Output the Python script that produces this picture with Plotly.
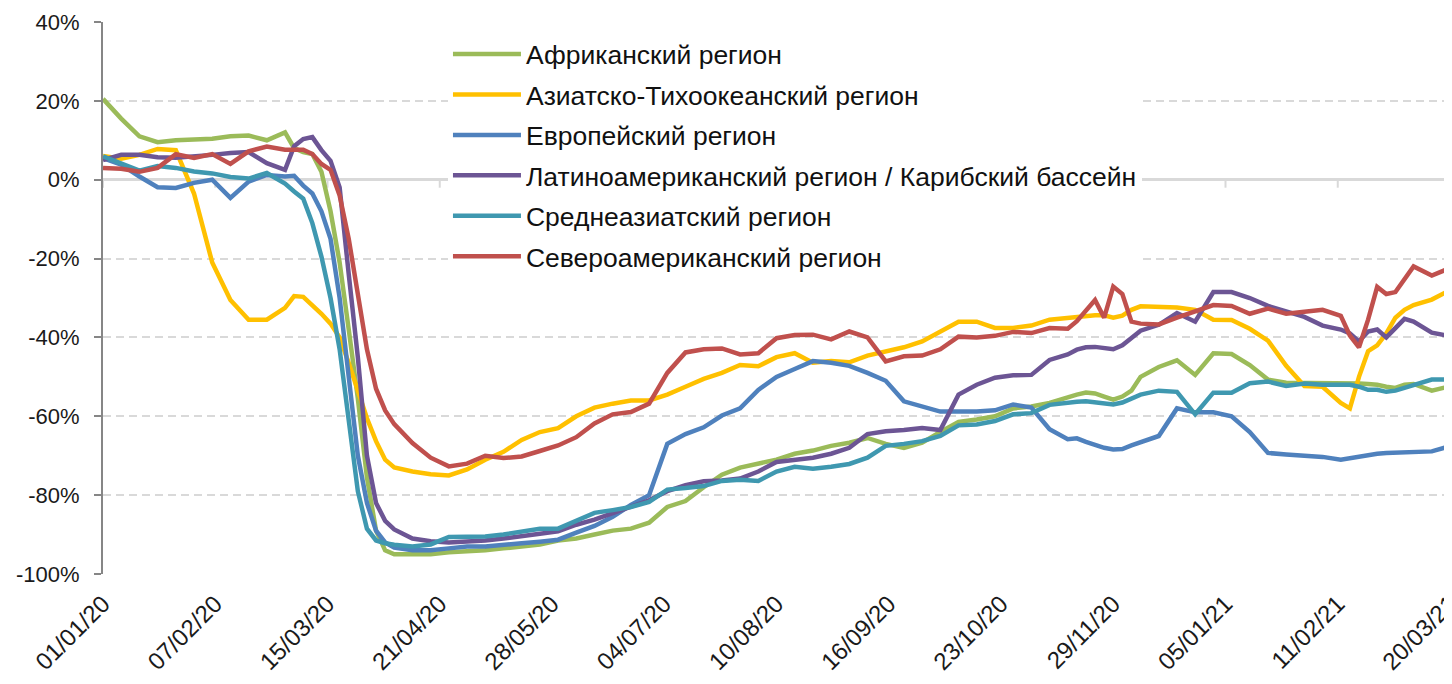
import datetime as dt
import plotly.graph_objects as go

# ---------------- data ----------------
start_date = "2020-01-01"
day_offsets = [0, 6, 12, 18, 24, 30, 36, 42, 48, 54, 60,
               63, 66, 69, 72, 75, 78, 81, 84, 87, 90, 93, 96,
               102, 108, 114, 120, 126, 132, 138, 144, 150, 156, 162, 168, 174, 180,
               186, 192, 198, 204, 210, 216, 222, 228, 234, 240, 246, 252, 258, 264,
               270, 276, 282, 288, 294, 300, 306, 312, 318,
               321, 324, 327, 330, 333, 336, 339, 342,
               348, 354, 360, 366, 372, 378, 384, 390, 396, 402, 408,
               411, 414, 417, 420, 423, 426, 429, 432,
               438, 444]

series_names = ["Африканский регион",
                "Азиатско-Тихоокеанский регион",
                "Европейский регион",
                "Латиноамериканский регион / Карибский бассейн",
                "Среднеазиатский регион",
                "Североамериканский регион"]

africa = [20.5, 15.5, 11, 9.5, 10, 10.2, 10.4, 11, 11.2, 10, 12,
          8, 7, 6.5, 2, -8, -21, -38, -55.5, -75.5, -89, -94, -95,
          -95, -95, -94.5, -94.3, -94, -93.5, -93, -92.5, -91.5, -91, -90, -89, -88.5, -87,
          -83, -81.5, -78, -74.8, -73, -72, -71, -69.5, -68.7, -67.5, -66.7, -65.5, -67, -68,
          -66.7, -64, -61.4, -60.8, -60, -58, -57.5, -56.6, -55,
          -54.5, -54, -54.2, -55, -55.8, -55, -53.5, -50,
          -47.5, -45.8, -49.5, -44, -44.2, -47, -50.7, -51.5, -51.5, -51.5, -51.5,
          -51.6, -51.7, -51.8, -52, -52.5, -52.8, -52, -51.8,
          -53.5, -52.4]

asia_pacific = [6, 5.3, 6.3, 7.8, 7.5, -3.5, -21, -30.5, -35.5, -35.5, -32.5,
                -29.5, -29.7, -31.8, -34, -36.5, -40, -46.5, -53.5, -60.5, -66.3, -71, -73,
                -74, -74.7, -75, -73.5, -71, -69, -66, -64, -63, -60, -57.8, -56.8, -56, -56,
                -54.5, -52.5, -50.5, -49, -47, -47.3, -45, -44, -46.4, -46, -46.3, -44.6, -43.6, -42.5,
                -41, -38.5, -36, -36, -37.6, -37.6, -37, -35.5, -35,
                -34.8, -34.7, -34.4, -34.4, -35, -34.5, -33, -32.1,
                -32.2, -32.4, -33, -35.5, -35.6, -37.8, -40.8, -47.2, -52.3, -52.5, -56.6,
                -58, -50, -43.5, -42, -39, -35, -33, -31.8,
                -30.4, -28]

europe = [5.5, 3.8, 0.8, -1.9, -2.1, -0.8, 0, -4.6, -0.5, 1.2, 0.8,
          1, -1.5, -3.5, -8, -15, -30, -51, -70, -82, -89, -92, -93.3,
          -94, -94, -93.5, -93, -93, -92.5, -92.2, -91.8, -91.3, -89.5, -87.8, -85.5, -82.5, -80,
          -67, -64.5, -62.8, -59.8, -58, -53.3, -50, -48, -46, -46.4, -47.2, -49, -51, -56.2,
          -57.5, -58.8, -58.8, -58.8, -58.5, -57, -57.8, -63.3, -65.8,
          -65.6, -66.5, -67.3, -68, -68.4, -68.3, -67.4, -66.5,
          -65, -58, -59, -59, -60, -64, -69.3, -69.7, -70, -70.3, -71,
          -70.6, -70.2, -69.7, -69.5, -69.3, -69.2, -69.1, -69,
          -68.9, -67.6]

latin_america = [5, 6.3, 6.3, 5.7, 5.6, 5.9, 6.3, 6.8, 7, 4.2, 2.5,
                 8.5, 10.3, 10.8, 7.5, 4.8, -2, -24, -45, -70, -82, -86.5, -88.7,
                 -91, -91.7, -92, -91.8, -91.5, -91, -90.3, -89.8, -89.2, -87.5, -86.2, -84.5, -82.8, -81.3,
                 -79, -77.5, -76.5, -76.3, -75.8, -74, -71.6, -71, -70.5, -69.5, -68, -64.5, -63.8, -63.5,
                 -63, -63.5, -54.5, -52, -50.2, -49.6, -49.5, -45.7, -44.3,
                 -43.1, -42.5, -42.4, -42.7, -43, -42, -40, -38.3,
                 -36.8, -33.8, -36, -28.5, -28.5, -30, -32, -33.5, -34.8, -37, -38,
                 -39, -41, -38.5, -38, -40, -37.5, -35.3, -36,
                 -38.8, -39.7]

central_asia = [5.9, 4.2, 2.3, 3.5, 3, 2.1, 1.6, 0.7, 0.3, 1.7, -1,
                -3, -4.8, -11, -19.5, -30, -43, -61, -79, -88.5, -91.5, -92.2, -92.6,
                -93, -92.5, -90.6, -90.5, -90.5, -90, -89.3, -88.5, -88.5, -86.5, -84.5, -83.8, -83, -81.7,
                -78.6, -78.2, -77.7, -76.4, -76.1, -76.4, -74, -72.8, -73.3, -72.8, -72.1, -70.5, -67.5, -67,
                -66.3, -65, -62.3, -62.1, -61.2, -59.5, -59.2, -57.1, -56.5,
                -56.3, -56.2, -56.4, -56.7, -57, -56.5, -55.6, -54.5,
                -53.5, -53.8, -59.5, -54, -54, -51.6, -51.2, -52.3, -51.7, -52, -52,
                -52, -52.5, -53.3, -53.3, -53.8, -53.5, -52.8, -52.2,
                -50.7, -50.7]

north_america = [3, 2.8, 2, 3, 6.5, 5.5, 6.5, 4, 7.2, 8.4, 7.6,
                 7.5, 7.6, 6.5, 4, 2.5, -4, -15, -29, -43, -53, -58.5, -62,
                 -66.8, -70.5, -72.7, -72, -70, -70.6, -70.2, -68.8, -67.4, -65.3, -61.8, -59.5, -58.9, -56.8,
                 -49, -43.8, -43, -42.8, -44.3, -44, -40.2, -39.4, -39.3, -40.5, -38.5, -40, -46.1, -44.8,
                 -44.6, -43, -39.8, -40, -39.6, -38.6, -38.9, -37.6, -37.8,
                 -35.9, -33, -30.5, -35, -27.1, -29, -36, -36.5,
                 -36.7, -35, -33.3, -31.8, -32, -34, -32.7, -34, -33.5, -33, -34.5,
                 -39.5, -42.5, -35.5, -27.2, -29, -28.5, -25, -22,
                 -24.3, -22.4]

tick_dates = ["2020-01-01", "2020-02-07", "2020-03-15", "2020-04-21", "2020-05-28",
              "2020-07-04", "2020-08-10", "2020-09-16", "2020-10-23", "2020-11-29",
              "2021-01-05", "2021-02-11", "2021-03-20"]
tick_labels = ["01/01/20", "07/02/20", "15/03/20", "21/04/20", "28/05/20", "04/07/20",
               "10/08/20", "16/09/20", "23/10/20", "29/11/20", "05/01/21", "11/02/21", "20/03/21"]

y_ticks = [-100, -80, -60, -40, -20, 0, 20, 40]
y_tick_labels = ["-100%", "-80%", "-60%", "-40%", "-20%", "0%", "20%", "40%"]

colors = ["#9BBB59", "#FFC000", "#4F81BD", "#6C5594", "#3F98B0", "#C0504D"]

# ---------------- figure ----------------
t0 = dt.date.fromisoformat(start_date)
dates = [t0 + dt.timedelta(days=d) for d in day_offsets]
all_series = [africa, asia_pacific, europe, latin_america, central_asia, north_america]

fig = go.Figure()
for i, (name, vals, col) in enumerate(zip(series_names, all_series, colors)):
    fig.add_trace(go.Scatter(
        x=dates, y=vals, mode="lines", name=name,
        legendgroup=f"g{i}",
        line=dict(color=col, width=4.5),
        hoverinfo="skip",
    ))

# small tick marks on the zero line
for td in tick_dates:
    fig.add_shape(type="line", xref="x", yref="y", x0=td, x1=td,
                  ysizemode="pixel", yanchor=0, y0=0, y1=-8,
                  line=dict(color="#d9d9d9", width=2), layer="below")

# the page body adds an 8px offset, so the figure is sized to compensate
fig.update_layout(
    width=1444, height=676,
    margin=dict(l=95, r=2, t=14, b=110),
    paper_bgcolor="white", plot_bgcolor="white",
    font=dict(family="Liberation Sans, Arial, sans-serif", color="#1a1a1a"),
    showlegend=True,
    legend=dict(
        x=0.2561, y=0.985, xanchor="left", yanchor="top",
        bgcolor="white", borderwidth=0,
        font=dict(size=26.5, color="#111111"),
        tracegroupgap=3,
        itemwidth=68,
    ),
    xaxis=dict(
        type="date",
        range=[dates[0], dates[-1]],
        tickvals=tick_dates, ticktext=tick_labels,
        tickangle=-45,
        tickfont=dict(size=24, color="#1a1a1a"),
        ticklabelstandoff=10,
        ticklabeloverflow="allow",
        showgrid=False, showline=False, ticks="", zeroline=False,
        automargin=False,
    ),
    yaxis=dict(
        range=[-100, 40],
        tickvals=y_ticks, ticktext=y_tick_labels,
        tickfont=dict(size=22, color="#1a1a1a"),
        ticklabelstandoff=10,
        showgrid=True, gridcolor="#d9d9d9", gridwidth=2, griddash="8px,5px",
        zeroline=True, zerolinecolor="#d9d9d9", zerolinewidth=3,
        showline=True, linecolor="#868686", linewidth=2,
        ticks="outside", ticklen=7, tickwidth=2, tickcolor="#868686",
        automargin=False,
    ),
)

fig.write_html("out.html")
